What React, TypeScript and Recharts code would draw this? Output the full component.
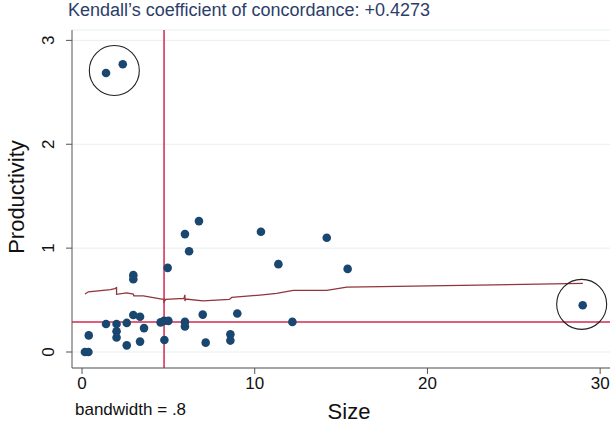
import {
  ComposedChart, Scatter, Line, XAxis, YAxis, CartesianGrid,
  ReferenceLine, ReferenceDot
} from "recharts";

// size / productivity observations
const sizeVals = [
  0.17, 0.37, 0.39, 1.39, 2.0, 2.0, 2.0, 2.59, 2.59, 2.97, 2.97, 2.97,
  3.36, 3.59, 3.36, 4.55, 4.75, 5.0, 4.77, 4.96, 5.96, 6.2, 6.77, 5.96,
  5.96, 6.99, 7.16, 8.59, 8.59, 8.99, 10.36, 11.37, 12.18, 14.17, 15.38,
  28.99, 1.39, 2.36,
];
const prodVals = [
  0.0, 0.0, 0.16, 0.27, 0.27, 0.2, 0.14, 0.28, 0.064, 0.74, 0.7, 0.356,
  0.34, 0.23, 0.1, 0.285, 0.3, 0.3, 0.115, 0.81, 1.135, 0.97, 1.26, 0.29,
  0.245, 0.36, 0.09, 0.17, 0.11, 0.37, 1.157, 0.846, 0.29, 1.1, 0.8,
  0.45, 2.686, 2.77,
];

// lowess smooth (bandwidth .8)
const lowessX = [
  0.17, 0.37, 1.65, 1.91, 2.0, 2.0, 2.59, 2.97, 3.0, 3.55, 4.62, 4.75, 4.75,
  4.85, 5.9, 5.96, 5.96, 6.0, 7.0, 8.53, 8.67, 10.3, 11.27, 12.23, 14.17,
  15.33, 17.3, 29.0,
];
const lowessY = [
  0.558, 0.58, 0.6, 0.61, 0.62, 0.555, 0.57, 0.558, 0.54, 0.54, 0.51, 0.51,
  0.484, 0.506, 0.516, 0.55, 0.49, 0.51, 0.493, 0.506, 0.525, 0.548, 0.564,
  0.593, 0.593, 0.625, 0.63, 0.66,
];

const xTicks = [0, 10, 20, 30];
const yTicks = [0, 1, 2, 3];
const refX = 4.75;
const refY = 0.29;
// circled outliers
const outliers = [
  { x: 1.87, y: 2.71 },
  { x: 28.93, y: 0.459 },
];

const points = sizeVals.map((x, i) => ({ x, y: prodVals[i] }));
const lowess = lowessX.map((x, i) => ({ x, y: lowessY[i] }));

const NAVY = "#1a476f";
const FONT = "'Liberation Sans', Arial, Helvetica, sans-serif";

const XTick = (props: any) => (
  <text x={props.x} y={389} textAnchor="middle" fontSize={17} fill="#111" fontFamily={FONT}>
    {props.payload.value}
  </text>
);

const YTick = (props: any) => (
  <text
    transform={`translate(54, ${props.y}) rotate(-90)`}
    textAnchor="middle"
    fontSize={17}
    fill="#111"
    fontFamily={FONT}
  >
    {props.payload.value}
  </text>
);

export default function App() {
  return (
    <div style={{ position: "absolute", left: 0, top: 0, width: 612, height: 425, background: "#fff", fontFamily: FONT }}>
      <div style={{ position: "absolute", left: 68, top: 0, fontSize: 18, color: "#2c3d69", whiteSpace: "nowrap" }}>
        Kendall’s coefficient of concordance: +0.4273
      </div>
      <div style={{ position: "absolute", left: 75, top: 400, fontSize: 17, color: "#111", whiteSpace: "nowrap" }}>
        bandwidth = .8
      </div>
      <ComposedChart width={612} height={425} margin={{ top: 30, right: 2, bottom: 0, left: 0 }}>
        <CartesianGrid vertical={false} stroke="#e6eff1" strokeWidth={1} />
        <XAxis
          type="number"
          dataKey="x"
          domain={[-0.58, 30.57]}
          ticks={xTicks}
          allowDataOverflow
          height={57}
          tickSize={6}
          stroke="#555"
          tick={<XTick />}
          label={{ value: "Size", position: "insideBottom", offset: 6, fontSize: 22, fill: "#111", fontFamily: FONT, dx: 8 }}
        />
        <YAxis
          type="number"
          dataKey="y"
          domain={[-0.154, 3.1]}
          ticks={yTicks}
          allowDataOverflow
          width={72}
          tickSize={6}
          stroke="#555"
          tick={<YTick />}
        />
        <ReferenceLine x={refX} stroke="#d3284f" strokeWidth={1.5} />
        <ReferenceLine y={refY} stroke="#d3284f" strokeWidth={1.5} />
        <Line
          data={lowess}
          dataKey="y"
          type="linear"
          stroke="#90353b"
          strokeWidth={1.3}
          dot={false}
          isAnimationActive={false}
        />
        <Scatter
          data={points}
          dataKey="y"
          isAnimationActive={false}
          shape={(p: any) => <circle cx={p.cx} cy={p.cy} r={4.3} fill={NAVY} />}
        />
        {outliers.map((o, i) => (
          <ReferenceDot key={i} x={o.x} y={o.y} r={25} fill="none" stroke="#222" strokeWidth={1.1} />
        ))}
      </ComposedChart>
      <div
        style={{
          position: "absolute", left: 17, top: 197, fontSize: 22, color: "#111",
          transform: "translate(-50%, -50%) rotate(-90deg)", whiteSpace: "nowrap",
        }}
      >
        Productivity
      </div>
    </div>
  );
}
